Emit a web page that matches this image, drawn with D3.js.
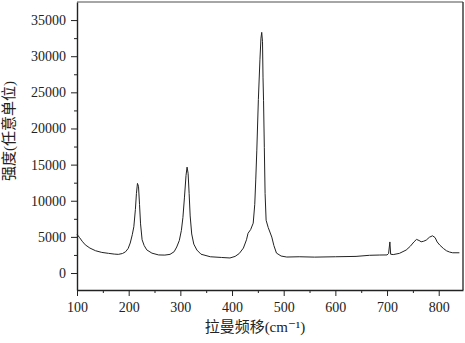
<!DOCTYPE html>
<html>
<head>
<meta charset="utf-8">
<script src="https://cdn.jsdelivr.net/npm/d3@7"></script>
<style>
  body { margin: 0; background: #fff; }
  .axis path, .axis line { stroke: #222; }
  .line { fill: none; stroke: #222; stroke-width: 1; }
</style>
</head>
<body>
<div id="chart"></div>
<script>
// Raman shift (cm-1) and intensity
var ramanShift = [100, 105, 110, 116, 125, 136, 148, 161, 172, 180, 188, 194, 199, 203, 207, 210, 213, 215, 217, 219,
    221, 223, 226, 230, 235, 245, 258, 270, 280, 288, 293, 298, 302, 305, 308, 311, 313, 315, 317, 319,
    322, 326, 332, 340, 358, 380, 396, 406, 414, 422, 428, 431, 436, 441, 444, 446, 448, 451, 454, 456,
    457.5, 459, 460, 461, 462.5, 464, 466, 470, 477, 481, 486, 495, 506, 530, 560, 600, 640, 666, 686, 700,
    703, 705.5, 707, 712, 724, 737, 745, 752, 757, 762, 766, 771, 776, 782, 788, 793, 797, 802, 809, 815,
    821, 827, 840];
var intensity = [5350, 4900, 4400, 3900, 3450, 3080, 2850, 2720, 2620, 2580, 2700, 2940, 3400, 4150, 5300, 6400, 8800, 11000, 12400, 12000,
    9500, 6800, 4600, 3800, 3200, 2750, 2500, 2480, 2580, 2950, 3600, 4500, 5900, 7700, 10500, 13500, 14650, 13800, 11000, 7900,
    5400, 4000, 3180, 2600, 2250, 2150, 2080, 2300, 2700, 3450, 4600, 5500, 6000, 6900, 9500, 13000, 17000, 24000, 29500, 32500,
    33300, 32000, 27000, 23900, 17400, 11000, 7300, 6300, 4970, 3800, 2760, 2350, 2210, 2250, 2200, 2250, 2300, 2450, 2490, 2500,
    2700, 4300, 2600, 2550, 2720, 3180, 3700, 4300, 4650, 4500, 4320, 4400, 4560, 4950, 5150, 4900, 4300, 3870, 3400, 3080,
    2900, 2800, 2800];
var xTicks = [100, 200, 300, 400, 500, 600, 700, 800];
var yTicks = [0, 5000, 10000, 15000, 20000, 25000, 30000, 35000];
var xTitle = "拉曼频移(cm⁻¹)";
var yTitle = "强度(任意单位)";

var data = ramanShift.map(function(d, i) {
    return { x: d, y: intensity[i] };
});

var serif = "Liberation Serif, DejaVu Serif, serif";
var margin = { top: 2, right: 2, bottom: 53, left: 77 },
    width = 465 - margin.left - margin.right,
    height = 343 - margin.top - margin.bottom;

var x = d3.scaleLinear().domain([100, 847]).range([0, width]);
var y = d3.scaleLinear().domain([-2350, 37500]).range([height, 0]);

var svg = d3.select("#chart").append("svg")
    .attr("width", 465)
    .attr("height", 343);

var g = svg.append("g")
    .attr("transform", "translate(" + margin.left + "," + margin.top + ")");

// frame: top and right
g.append("line")
    .attr("x1", 0).attr("x2", width).attr("y1", 0).attr("y2", 0)
    .attr("stroke", "#888").attr("stroke-width", 1.6);
g.append("line")
    .attr("x1", width).attr("x2", width).attr("y1", 0).attr("y2", height)
    .attr("stroke", "#333").attr("stroke-width", 1.4);

// minor ticks
g.append("g")
    .attr("class", "axis")
    .attr("transform", "translate(0," + height + ")")
    .call(d3.axisBottom(x).tickValues(d3.range(150, 847, 100)).tickSize(3).tickFormat(""))
    .select(".domain").remove();
g.append("g")
    .attr("class", "axis")
    .call(d3.axisLeft(y).tickValues(d3.range(-2500, 37500, 5000).filter(function(v) { return v > -2350; })).tickSize(3).tickFormat(""))
    .select(".domain").remove();

g.append("g")
    .attr("class", "axis")
    .attr("transform", "translate(0," + height + ")")
    .call(d3.axisBottom(x).tickValues(xTicks).tickFormat(d3.format("d")).tickSize(6).tickSizeOuter(0).tickPadding(6))
    .attr("font-size", 14);

g.append("g")
    .attr("class", "axis")
    .call(d3.axisLeft(y).tickValues(yTicks).tickFormat(d3.format("d")).tickSize(6).tickSizeOuter(0).tickPadding(5))
    .attr("font-size", 14);

g.selectAll(".axis text")
    .attr("fill", "#222")
    .style("font-family", serif);
g.selectAll(".axis .domain").attr("stroke-width", 1.4);

g.append("path")
    .datum(data)
    .attr("class", "line")
    .attr("d", d3.line()
        .x(function(d) { return x(d.x); })
        .y(function(d) { return y(d.y); }));

svg.append("text")
    .attr("x", 255)
    .attr("y", 332)
    .attr("text-anchor", "middle")
    .style("font-family", serif + ", Noto Sans CJK SC")
    .style("font-size", "15px")
    .style("fill", "#222")
    .text(xTitle);

svg.append("text")
    .attr("transform", "translate(14,131) rotate(-90)")
    .attr("text-anchor", "middle")
    .style("font-family", serif + ", Noto Sans CJK SC")
    .style("font-size", "15px")
    .style("fill", "#222")
    .text(yTitle);
</script>
</body>
</html>
